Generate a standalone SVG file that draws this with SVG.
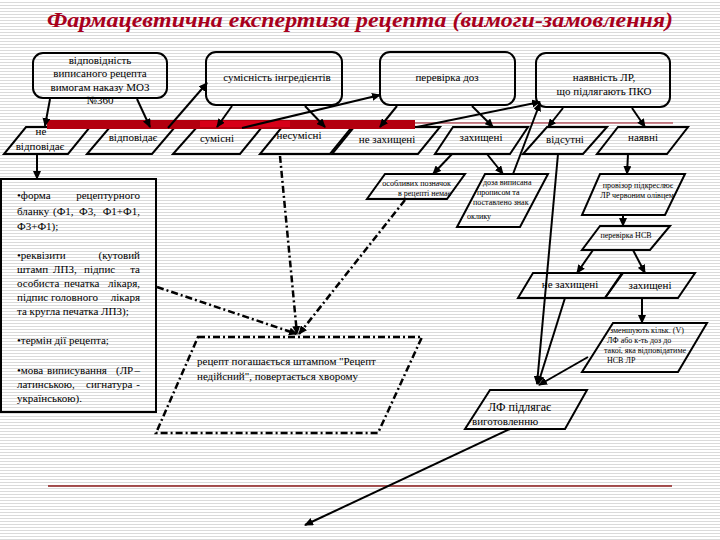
<svg xmlns="http://www.w3.org/2000/svg" width="720" height="540" viewBox="0 0 720 540">
<defs>
<pattern id="bg" width="4" height="3" patternUnits="userSpaceOnUse"><rect width="4" height="3" fill="#ffffff"/><rect y="2" width="4" height="1" fill="#dadada"/></pattern>
<marker id="ah" markerWidth="9" markerHeight="8" refX="8" refY="4" orient="auto" markerUnits="userSpaceOnUse"><path d="M0,0 L9,4 L0,8 z" fill="#000"/></marker>
</defs>
<style>
text{font-family:"Liberation Serif","DejaVu Serif",serif;fill:#000;}
.s11{font-size:11px;}
.s8{font-size:8px;}
.c{text-anchor:middle;}
.e{text-anchor:end;}
.box{fill:none;stroke:#000;stroke-width:2;}
.pg{fill:none;stroke:#000;stroke-width:2;}
.pgd{fill:none;stroke:#000;stroke-width:2.5;stroke-dasharray:7,3,2,3;}
.ln{fill:none;stroke:#000;stroke-width:2;marker-end:url(#ah);}
.dl{fill:none;stroke:#000;stroke-width:2.5;stroke-dasharray:7,3,2,3;marker-end:url(#ah);}
</style>
<rect width="720" height="540" fill="url(#bg)"/>
<text x="360" y="27" text-anchor="middle" textLength="626" lengthAdjust="spacingAndGlyphs" font-family="Liberation Serif, DejaVu Serif, serif" font-size="22" font-weight="bold" font-style="italic" style="fill:#a8001c">Фармацевтична експертиза рецепта (вимоги-замовлення)</text>

<g id="box1"><rect class="box" x="33" y="53" width="134" height="45" rx="10"/>
<text class="s11 c" x="100" y="64">відповідність</text>
<text class="s11 c" x="100" y="77">виписаного рецепта</text>
<text class="s11 c" x="100" y="91">вимогам наказу МОЗ</text>
<text class="s11 c" x="100" y="104">№360</text></g>
<g id="box2"><rect class="box" x="206" y="52" width="136" height="53" rx="10"/>
<text class="s11 c" x="277" y="81">сумісність інгредієнтів</text></g>
<g id="box3"><rect class="box" x="380" y="52" width="135" height="53" rx="10"/>
<text class="s11 c" x="447" y="81">перевірка доз</text></g>
<g id="box4"><rect class="box" x="536" y="53" width="134" height="54" rx="10"/>
<text class="s11 c" x="604" y="81">наявність ЛР,</text>
<text class="s11 c" x="604" y="95">що підлягають ПКО</text></g>

<g id="ne-vidpovidaie"><polygon class="pg" points="26,127 90,127 68,154 4,154"/>
<text class="s11 c" x="41" y="135">не</text>
<text class="s11 c" x="40" y="150">відповідає</text></g>
<g id="vidpovidaie"><polygon class="pg" points="110,127 175,127 152,154 87,154"/>
<text class="s11 c" x="133" y="141">відповідає</text></g>
<g id="sumisni"><polygon class="pg" points="197,127 262,127 240,154 173,154"/>
<text class="s11 c" x="217" y="142">сумісні</text></g>
<g id="nesumisni"><polygon class="pg" points="282,127 352,127 330,154 260,154"/>
<text class="s11 c" x="299" y="139">несумісні</text></g>
<g id="ne-zakhyshcheni"><polygon class="pg" points="354,127 440,127 418,154 332,154"/>
<text class="s11 c" x="387" y="143">не захищені</text></g>
<g id="zakhyshcheni"><polygon class="pg" points="453,127 528,127 510,154 435,154"/>
<text class="s11 c" x="481" y="141">захищені</text></g>
<g id="vidsutni"><polygon class="pg" points="547,127 607,127 583,154 523,154"/>
<text class="s11 c" x="565" y="143">відсутні</text></g>
<g id="naiavni"><polygon class="pg" points="618,127 688,127 667,154 597,154"/>
<text class="s11 c" x="643" y="141">наявні</text></g>

<g id="red-bar">
<line x1="47" y1="123" x2="673" y2="123" stroke="#9b1020" stroke-width="1.2"/>
<rect x="47" y="120" width="368" height="9" fill="#b3000f"/>
<rect x="200" y="121" width="90" height="6" fill="#e0001a" opacity="0.8"/>
</g>

<g id="requirements"><rect class="box" x="1" y="179" width="155" height="233"/>
<text class="s11" y="199"><tspan x="17">•форма</tspan><tspan x="140" class="e">рецептурного</tspan></text>
<text class="s11" y="215"><tspan x="17">бланку</tspan><tspan x="53">(Ф1,</tspan><tspan x="79">Ф3,</tspan><tspan x="140" class="e">Ф1+Ф1,</tspan></text>
<text class="s11" x="17" y="230">Ф3+Ф1);</text>
<text class="s11" y="259"><tspan x="17">•реквізити</tspan><tspan x="140" class="e">(кутовий</tspan></text>
<text class="s11" y="273"><tspan x="17">штамп</tspan><tspan x="53">ЛПЗ,</tspan><tspan x="84">підпис</tspan><tspan x="140" class="e">та</tspan></text>
<text class="s11" y="287"><tspan x="17">особиста</tspan><tspan x="64">печатка</tspan><tspan x="140" class="e">лікаря,</tspan></text>
<text class="s11" y="301"><tspan x="17">підпис</tspan><tspan x="51">головного</tspan><tspan x="140" class="e">лікаря</tspan></text>
<text class="s11" x="17" y="315">та кругла печатка ЛПЗ);</text>
<text class="s11" x="17" y="344">•термін дії рецепта;</text>
<text class="s11" y="374"><tspan x="17">•мова</tspan><tspan x="47">виписування</tspan><tspan x="116">(ЛР</tspan><tspan x="140" class="e">–</tspan></text>
<text class="s11" y="388"><tspan x="17">латинською,</tspan><tspan x="86">сигнатура</tspan><tspan x="140" class="e">-</tspan></text>
<text class="s11" x="17" y="402">українською).</text></g>

<g id="osoblyvykh"><polygon class="pg" points="385,174 465,174 447,199 367,199"/>
<text class="s8 e" x="451" y="186">особливих позначок</text>
<text class="s8 e" x="451" y="196">в рецепті немає</text></g>
<g id="doza"><polygon class="pg" points="485,174 548,174 520,227 457,227"/>
<text class="s8" x="483" y="185">доза виписана</text>
<text class="s8" x="477" y="195">прописом та</text>
<text class="s8" x="473" y="205">поставлено знак</text>
<text class="s8" x="467" y="219">оклику</text></g>
<g id="provizor"><polygon class="pg" points="600,174 685,174 665,215 582,215"/>
<text class="s8 c" x="638" y="188">провізор підкреслює</text>
<text class="s8 c" x="637" y="198">ЛР червоним олівцем</text></g>
<g id="nsv"><polygon class="pg" points="600,226 670,226 650,250 582,250"/>
<text class="s8 c" x="626" y="238">перевірка НСВ</text></g>
<g id="ne-zakhyshcheni-2"><polygon class="pg" points="533,273 623,273 605,298 518,298"/>
<text class="s11 c" x="570" y="288">не захищені</text></g>
<g id="zakhyshcheni-2"><polygon class="pg" points="622,273 695,273 678,298 605,298"/>
<text class="s11 c" x="650" y="289">захищені</text></g>
<g id="zmenshuiut"><polygon class="pg" points="613,323 707,323 678,372 582,372"/>
<text class="s8" x="610" y="333">зменшують кільк. (V)</text>
<text class="s8" x="607" y="343">ЛФ або к-ть доз до</text>
<text class="s8" x="604" y="353">такої, яка відповідатиме</text>
<text class="s8" x="607" y="363">НСВ ЛР</text></g>
<g id="lf"><polygon class="pg" points="490,390 587,390 565,429 465,429"/>
<text x="488" y="411" font-size="12">ЛФ підлягає</text>
<text class="s11" x="472" y="425">виготовленню</text></g>
<g id="nediisnyi"><polygon class="pgd" points="198,337 422,337 378,433 156,433"/>
<text class="s11" x="197" y="365">рецепт погашається штампом "Рецепт</text>
<text class="s11" x="197" y="380">недійсний", повертається хворому</text></g>

<g id="bottom-line"><line x1="48" y1="486" x2="672" y2="486" stroke="#8b1a1a" stroke-width="1.5"/></g>

<g id="connectors">
<line class="ln" x1="50" y1="99" x2="45" y2="126"/>
<line class="ln" x1="137" y1="99" x2="150" y2="127"/>
<line class="ln" x1="168" y1="128" x2="207" y2="83"/>
<line class="ln" x1="232" y1="106" x2="217" y2="127"/>
<line class="ln" x1="305" y1="106" x2="325" y2="127"/>
<line class="ln" x1="242" y1="128" x2="380" y2="95"/>
<line class="ln" x1="397" y1="106" x2="380" y2="127"/>
<line class="ln" x1="472" y1="106" x2="493" y2="127"/>
<line class="ln" x1="417" y1="127" x2="540" y2="102"/>
<line class="ln" x1="563" y1="108" x2="548" y2="127"/>
<line class="ln" x1="632" y1="108" x2="645" y2="127"/>
<line class="ln" x1="513" y1="174" x2="540" y2="103"/>
<line class="ln" x1="452" y1="154" x2="433" y2="174"/>
<line class="ln" x1="487" y1="154" x2="503" y2="174"/>
<line class="ln" x1="558" y1="154" x2="537" y2="384"/>
<line class="ln" x1="628" y1="154" x2="627" y2="174"/>
<line class="ln" x1="623" y1="215" x2="623" y2="226"/>
<line class="ln" x1="593" y1="250" x2="577" y2="273"/>
<line class="ln" x1="633" y1="250" x2="645" y2="273"/>
<line class="ln" x1="642" y1="298" x2="642" y2="323"/>
<line class="ln" x1="565" y1="298" x2="538" y2="384"/>
<line class="ln" x1="588" y1="357" x2="539" y2="385"/>
<line class="ln" x1="510" y1="429" x2="305" y2="525"/>
<line class="ln" x1="37" y1="154" x2="37" y2="179"/>
<line class="dl" x1="157" y1="287" x2="297" y2="334"/>
<line class="dl" x1="280" y1="156" x2="297" y2="334"/>
<line class="dl" x1="405" y1="200" x2="299" y2="334"/>
</g>
</svg>
